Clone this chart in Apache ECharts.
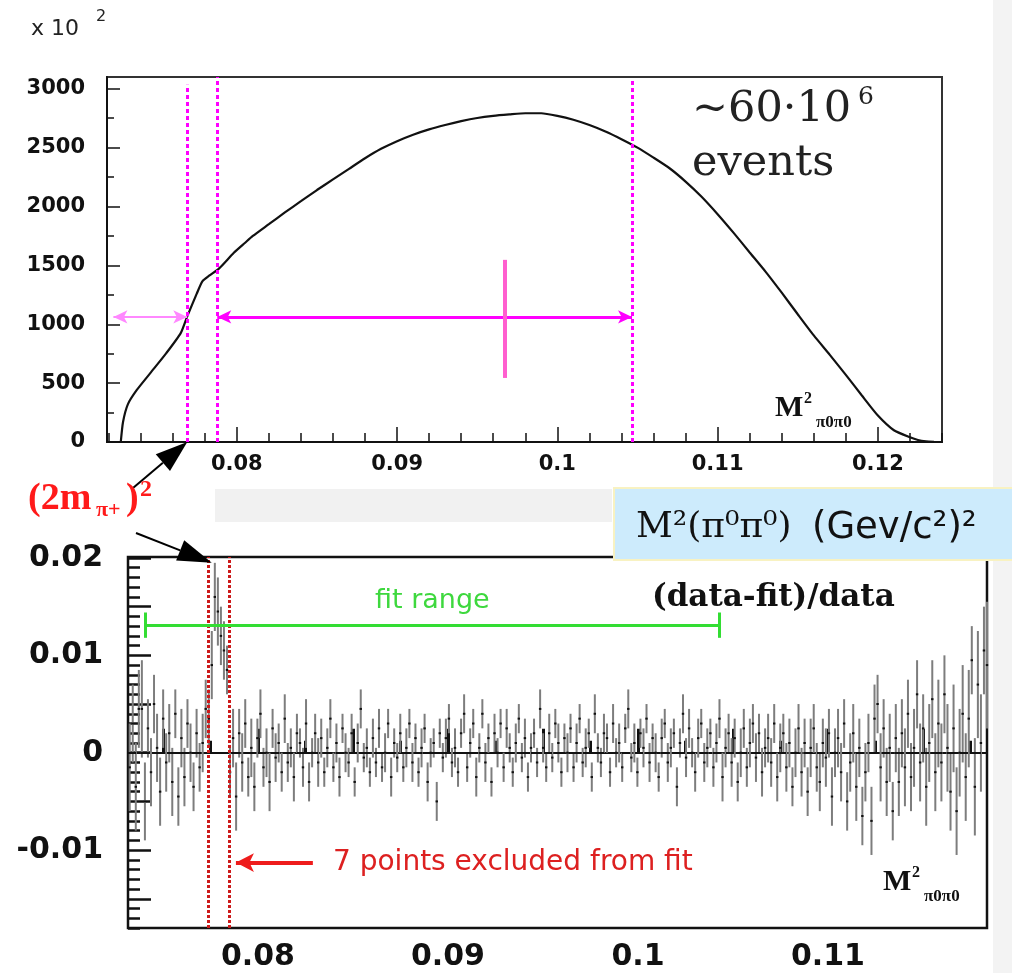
<!DOCTYPE html>
<html><head><meta charset="utf-8">
<script src="https://cdn.jsdelivr.net/npm/echarts@6/dist/echarts.min.js"></script>
<style>html,body{margin:0;padding:0;background:#fff}#c{width:1012px;height:973px}</style>
</head><body><div id="c"></div>
<script>
// ---------- top panel: M^2(pi0 pi0) distribution, units of 10^2 events ----------
const topX = [0.07276,0.07290,0.07320,0.07375,0.0746,0.0756,0.0765,0.0769,0.0775,0.07785,0.0783,0.0789,0.0798,0.0805,
  0.081,0.082,0.083,0.084,0.085,0.086,0.087,0.088,0.089,0.090,0.091,0.092,0.093,0.094,0.095,0.096,0.097,0.098,0.099,
  0.100,0.101,0.102,0.103,0.104,0.105,0.106,0.107,0.108,0.109,0.110,0.111,0.112,0.113,0.114,0.115,0.116,0.117,0.118,
  0.119,0.120,0.121,0.122,0.1225,0.123,0.1235];
const topY = [0,170,320,440,585,755,925,1065,1260,1365,1415,1475,1605,1690,
  1750,1850,1950,2045,2140,2230,2320,2410,2490,2555,2610,2655,2692,2725,2752,2770,2782,2792,2792,
  2770,2737,2692,2637,2572,2500,2415,2325,2212,2083,1935,1776,1610,1445,1268,1085,905,740,570,
  395,225,100,40,17,6,2];
const topXMin = 0.0719, topXMax = 0.1240, topYMin = 0, topYMax = 3100;
const topXLabels = [0.08, 0.09, 0.1, 0.11, 0.12];
const topYLabels = [0, 500, 1000, 1500, 2000, 2500, 3000];
const cutLinesTop = [0.07691, 0.07878, 0.10466];
const cutLinesTopFrom = [3035, 3100, 3077];
const arrowY = 1062;
const leftArrow = [0.0723, 0.07691];
const rightArrow = [0.07878, 0.10466];
const pinkBar = [0.09672, 544, 1547];

// ---------- bottom panel: (data-fit)/data residuals ----------
const resStart = 0.07325, resStep = 0.00016;   // bin centres
// residual values and errors, in units of 1e-3
const resVal = [
  -1.5,3.0,-3.5,4.5,4.5,-5.0,2.5,-2.0,5.0,0.5,-4.0,3.5,-1.0,2.0,-3.0,4.0,-4.5,1.5,-2.5,3.0,0.0,-3.5,2.0,-1.5,1.0,4.5,
  3.5,9.0,16.0,14.5,12.0,10.5,8.5,
  -2.0,1.5,-4.5,2.0,-1.0,3.0,-2.5,0.5,-3.5,1.5,
  4.0,-1.5,0.0,-3.0,2.5,-0.5,1.0,-2.0,3.5,-1.0,
  0.5,-2.5,2.0,1.0,-1.5,3.0,-3.0,0.0,2.0,-1.0,
  1.5,-2.0,0.5,3.5,-1.5,1.0,-2.5,2.5,0.0,-1.0,
  2.0,-3.0,1.0,4.5,-0.5,0.5,-2.0,1.5,-1.0,2.5,
  -1.5,0.0,3.0,-2.5,1.0,-0.5,2.0,-1.5,0.5,3.0,
  -1.0,1.5,-2.0,0.5,2.5,-3.0,0.0,1.0,-5.0,2.0,
  -0.5,1.5,3.5,-1.0,0.5,-2.0,2.0,4.0,-1.5,1.0,
  3.0,-2.5,0.5,4.0,-1.0,1.5,-3.0,2.0,0.0,3.0,
  -1.5,2.5,0.5,-2.0,1.0,3.5,-0.5,1.5,-2.5,0.5,
  2.0,-1.0,4.5,0.5,-1.5,2.0,-0.5,3.0,1.0,-2.0,
  1.5,0.0,2.5,-1.5,1.0,3.5,-1.0,0.5,2.0,-2.5,
  4.0,0.5,-1.0,2.0,1.5,-2.0,3.0,0.0,1.0,-1.5,
  2.5,4.5,-0.5,1.0,-2.0,2.0,0.5,3.5,-1.0,1.5,
  0.0,-2.5,1.5,3.0,-1.0,0.5,2.0,-3.5,1.0,4.0,
  -0.5,2.5,0.0,-2.0,1.5,3.0,-1.0,0.5,2.0,-1.5,
  1.0,3.5,-2.5,0.5,2.0,-1.0,1.5,-3.0,0.0,2.5,
  -1.5,1.0,3.0,-0.5,2.0,-2.0,0.5,1.5,-1.0,3.0,
  -2.5,0.5,2.0,-1.5,1.0,-3.5,0.0,2.5,-2.0,1.0,
  -4.0,0.5,2.5,-1.5,-3.0,1.0,-0.5,2.0,-4.5,0.0,
  1.5,-2.0,3.0,-5.0,-1.0,2.0,-3.5,0.5,-6.5,-2.0,
  1.0,-7.0,3.5,5.0,-1.5,2.5,-3.0,0.5,-6.0,1.5,
  -3.0,2.0,-1.5,4.0,-2.5,0.5,6.0,-1.0,2.5,-3.5,
  1.0,5.5,-2.0,3.0,-1.0,6.0,0.5,-4.0,2.5,-6.0,
  0.0,4.0,-2.5,3.5,9.5,-3.5,7.0,1.0,10.5,9.0];
const resErr = [
  4.5,4.0,4.5,4.0,5.0,4.0,3.0,3.5,3.0,3.5,3.5,3.0,3.0,3.0,3.5,2.5,3.0,3.0,3.0,2.5,3.0,2.5,2.5,2.5,3.0,3.0,
  3.0,3.5,3.5,3.5,3.0,3.0,2.5,
  2.5,3.0,3.5,2.5,3.0,2.5,2.0,3.0,2.5,2.0,
  2.5,2.0,2.5,3.0,2.0,2.5,2.0,2.0,2.5,2.0,
  2.0,2.5,2.0,1.5,2.0,2.5,2.0,1.5,2.0,2.5,
  2.0,1.5,2.0,2.0,1.5,2.0,2.0,1.5,2.0,1.5,
  2.0,1.5,2.0,2.0,1.5,2.0,1.5,2.0,1.5,2.0,
  1.5,2.0,1.5,2.0,1.5,1.5,2.0,1.5,2.0,1.5,
  2.0,1.5,1.5,2.0,1.5,2.0,1.5,1.5,2.0,1.5,
  1.5,2.0,1.5,1.5,2.0,1.5,1.5,2.0,1.5,1.5,
  1.5,2.0,1.5,1.5,2.0,1.5,1.5,2.0,1.5,1.5,
  1.5,2.0,1.5,1.5,2.0,1.5,1.5,2.0,1.5,1.5,
  1.5,1.5,2.0,1.5,1.5,2.0,1.5,1.5,2.0,1.5,
  1.5,2.0,1.5,1.5,2.0,1.5,1.5,2.0,1.5,1.5,
  2.0,1.5,1.5,2.0,1.5,1.5,2.0,1.5,2.0,1.5,
  1.5,2.0,1.5,2.0,1.5,1.5,2.0,1.5,2.0,1.5,
  2.0,1.5,2.0,1.5,2.0,2.0,1.5,2.0,1.5,2.0,
  2.0,2.0,1.5,2.0,2.0,1.5,2.0,2.0,1.5,2.0,
  2.0,2.0,2.5,2.0,2.0,2.5,2.0,2.0,2.5,2.0,
  2.0,2.5,2.0,2.5,2.0,2.5,2.0,2.5,2.5,2.0,
  2.5,2.5,2.0,2.5,2.5,2.0,2.5,2.5,2.5,2.5,
  2.5,3.0,2.5,2.5,3.0,2.5,3.0,2.5,3.0,2.5,
  3.0,3.0,2.5,3.0,3.0,3.0,3.5,3.0,3.0,3.0,
  3.0,3.5,3.5,3.0,3.5,3.0,3.5,3.5,3.0,3.5,
  3.5,3.5,4.0,3.5,3.5,4.0,3.5,4.0,3.5,4.0,
  4.0,4.0,4.0,4.5,4.0,4.0,4.5,4.0,4.5,4.5,
  4.5,5.0,4.5,5.0,3.5,5.0,5.5,5.0,4.5,6.5];
const botXMin = 0.07316, botXMax = 0.11837, botYMin = -0.018, botYMax = 0.0201;
const botXLabels = [0.08, 0.09, 0.1, 0.11];
const botYLabels = [-0.01, 0, 0.01, 0.02];
const cutLinesBot = [0.07737, 0.07847];
const fitRange = [0.07405, 0.10426], fitY = 0.0131;
const exclArrow = [0.08289, 0.07884], exclY = -0.01128;

// ---------- helpers ----------
function ticks(a, b, s) { const r = []; for (let k = Math.ceil(a / s - 1e-9); k * s <= b + 1e-12; k++) r.push(+(k * s).toFixed(6)); return r; }
const fmt = v => String(parseFloat((+v).toFixed(4)));
const SANS = '"DejaVu Sans", sans-serif', SERIF = '"DejaVu Serif", serif', TIMES = '"Liberation Serif", serif';

function xAx(grid, min, max, major, minor, labels, fs, majLen, minLen, w, margin) {
  return [
    { gridIndex: grid, type: 'value', position: 'bottom', min, max,
      axisLine: { show: true, lineStyle: { color: '#111', width: 2 } },
      axisTick: { show: true, inside: true, length: majLen, customValues: major, lineStyle: { color: '#111', width: w } },
      axisLabel: { customValues: labels, formatter: fmt, margin, fontFamily: SANS, fontWeight: 'bold', fontSize: fs, color: '#111' },
      splitLine: { show: false } },
    { gridIndex: grid, type: 'value', position: 'bottom', min, max,
      axisLine: { show: false },
      axisTick: { show: true, inside: true, length: minLen, customValues: minor, lineStyle: { color: '#111', width: w } },
      axisLabel: { show: false }, splitLine: { show: false } }
  ];
}
function yAx(grid, min, max, major, minor, labels, fs, majLen, minLen, w, margin) {
  return [
    { gridIndex: grid, type: 'value', position: 'left', min, max,
      axisLine: { show: true, lineStyle: { color: '#111', width: 2 } },
      axisTick: { show: true, inside: true, length: majLen, customValues: major, lineStyle: { color: '#111', width: w } },
      axisLabel: { customValues: labels, formatter: fmt, margin, fontFamily: SANS, fontWeight: 'bold', fontSize: fs, color: '#111' },
      splitLine: { show: false } },
    { gridIndex: grid, type: 'value', position: 'left', min, max,
      axisLine: { show: false },
      axisTick: { show: true, inside: true, length: minLen, customValues: minor, lineStyle: { color: '#111', width: w } },
      axisLabel: { show: false }, splitLine: { show: false } }
  ];
}

const chart = echarts.init(document.getElementById('c'), null, { renderer: 'canvas' });

const mag = '#ff00ff';
const topMarks = [];
cutLinesTop.forEach((x, i) => topMarks.push([
  { coord: [x, topYMin], symbol: 'none', lineStyle: { color: mag, width: 3, type: [4, 3] } },
  { coord: [x, cutLinesTopFrom[i]], symbol: 'none' }]));
topMarks.push([
  { coord: [leftArrow[0], arrowY], symbol: 'arrow', lineStyle: { color: '#ff88ff', width: 2, type: 'solid' } },
  { coord: [leftArrow[1], arrowY], symbol: 'arrow' }]);
topMarks.push([
  { coord: [rightArrow[0], arrowY], symbol: 'arrow', lineStyle: { color: mag, width: 3, type: 'solid' } },
  { coord: [rightArrow[1], arrowY], symbol: 'arrow' }]);
topMarks.push([
  { coord: [pinkBar[0], pinkBar[1]], symbol: 'none', lineStyle: { color: '#ff5fcf', width: 4, type: 'solid' } },
  { coord: [pinkBar[0], pinkBar[2]], symbol: 'none' }]);

const botMarks = [];
botMarks.push([
  { coord: [botXMin, 0], symbol: 'none', lineStyle: { color: '#111', width: 2, type: [8, 5] } },
  { coord: [botXMax, 0], symbol: 'none' }]);
cutLinesBot.forEach(x => botMarks.push([
  { coord: [x, botYMin], symbol: 'none', lineStyle: { color: '#cc1a1a', width: 3, type: [3, 2] } },
  { coord: [x, botYMax], symbol: 'none' }]));
const green = '#33dd33';
botMarks.push([
  { coord: [fitRange[0], fitY], symbol: 'none', lineStyle: { color: green, width: 3, type: 'solid' } },
  { coord: [fitRange[1], fitY], symbol: 'none' }]);
fitRange.forEach(x => botMarks.push([
  { coord: [x, fitY - 0.0013], symbol: 'none', lineStyle: { color: green, width: 3, type: 'solid' } },
  { coord: [x, fitY + 0.0013], symbol: 'none' }]));
botMarks.push([
  { coord: [exclArrow[0], exclY], symbol: 'none', lineStyle: { color: '#ee1c1c', width: 4, type: 'solid' } },
  { coord: [exclArrow[1], exclY], symbol: 'arrow' }]);

const resData = resVal.map((v, i) => [resStart + i * resStep, v / 1000, resErr[i] / 1000]);

const option = {
  animation: false,
  backgroundColor: '#ffffff',
  grid: [
    { left: 107, top: 77, width: 835, height: 365, show: true, borderColor: '#333', borderWidth: 2, backgroundColor: 'transparent' },
    { left: 128, top: 557, width: 859, height: 371, show: true, borderColor: '#111', borderWidth: 2.5, backgroundColor: 'transparent' }
  ],
  xAxis: [
    ...xAx(0, topXMin, topXMax, ticks(topXMin, topXMax, 0.01), ticks(topXMin, topXMax, 0.002), topXLabels, 21, 15, 9, 1.5, 12),
    ...xAx(1, botXMin, botXMax, ticks(botXMin, botXMax, 0.005), ticks(botXMin, botXMax, 0.0025), botXLabels, 30, 24, 12, 3, 14)
  ],
  yAxis: [
    ...yAx(0, topYMin, topYMax, ticks(topYMin, topYMax, 500), ticks(topYMin, topYMax, 250), topYLabels, 21, 13, 7, 1.5, 22),
    ...yAx(1, botYMin, botYMax, ticks(botYMin, botYMax, 0.005), ticks(botYMin, botYMax, 0.001), botYLabels, 30, 23, 12, 2.5, 25)
  ],
  series: [
    { type: 'line', xAxisIndex: 0, yAxisIndex: 0, data: topX.map((x, i) => [x, topY[i]]),
      showSymbol: false, symbol: 'none', smooth: 0.2, lineStyle: { color: '#111', width: 2.2 }, silent: true, z: 3,
      markLine: { silent: true, symbol: ['none', 'none'], symbolSize: [10, 14], label: { show: false }, data: topMarks } },
    { type: 'custom', xAxisIndex: 2, yAxisIndex: 2, data: resData, silent: true, z: 2,
      renderItem: function (params, api) {
        const x = api.value(0), v = api.value(1), e = api.value(2);
        const a = api.coord([x, v + e]), b = api.coord([x, v - e]), c = api.coord([x, v]);
        return { type: 'group', children: [
          { type: 'line', shape: { x1: a[0], y1: a[1], x2: b[0], y2: b[1] }, style: { stroke: '#7d7d7d', lineWidth: 2 } },
          { type: 'rect', shape: { x: c[0] - 1.2, y: c[1] - 1, width: 2.4, height: 2 }, style: { fill: '#111' } }
        ] };
      },
      markLine: { silent: true, symbol: ['none', 'none'], symbolSize: [14, 18], label: { show: false }, data: botMarks } }
  ]
};
chart.setOption(option);

// ---------- annotations ----------
const tip1 = chart.convertToPixel({ gridIndex: 0 }, [cutLinesTop[0], topYMin]);
const tip2 = chart.convertToPixel({ gridIndex: 1 }, [cutLinesBot[0] + 0.0002, botYMax - 0.0006]);
function arrow(tail, tip, L, W) {
  const dx = tip[0] - tail[0], dy = tip[1] - tail[1], d = Math.hypot(dx, dy);
  const ux = dx / d, uy = dy / d, bx = tip[0] - ux * L, by = tip[1] - uy * L, nx = -uy, ny = ux;
  return [
    { type: 'line', z: 50, shape: { x1: tail[0], y1: tail[1], x2: bx, y2: by }, style: { stroke: '#000', lineWidth: 2 } },
    { type: 'polygon', z: 50, shape: { points: [tip, [bx + nx * W / 2, by + ny * W / 2], [bx - nx * W / 2, by - ny * W / 2]] }, style: { fill: '#000' } }
  ];
}
function txt(x, y, text, font, fill) {
  return { type: 'text', z: 60, x, y, style: { text, font, fill, align: 'left', verticalAlign: 'middle' } };
}
const g = [
  { type: 'rect', z: 1, shape: { x: 993, y: 0, width: 19, height: 973 }, style: { fill: '#f3f3f3' } },
  { type: 'rect', z: 1, shape: { x: 215, y: 489, width: 397, height: 33 }, style: { fill: '#f1f1f1' } },
  { type: 'rect', z: 40, shape: { x: 614, y: 488, width: 400, height: 72 }, style: { fill: '#cdebfc', stroke: '#f8f2c2', lineWidth: 2 } },
  txt(636, 528, 'M²(π⁰π⁰)', '36px ' + SERIF, '#111'),
  txt(812, 528, '(Gev/c²)²', '37px ' + SANS, '#111'),
  txt(31, 29, 'x 10', '22px ' + SANS, '#222'),
  txt(96, 17, '2', '16px ' + SANS, '#222'),
  txt(692, 110, '~60·10', '43px ' + SERIF, '#222'),
  txt(858, 97, '6', '25px ' + SERIF, '#222'),
  txt(692, 164, 'events', '43px ' + SERIF, '#222'),
  txt(775, 408, 'M', 'bold 30px ' + TIMES, '#111'),
  txt(804, 399, '2', 'bold 16px ' + TIMES, '#111'),
  txt(816, 423, 'π0π0', 'bold 17px ' + TIMES, '#111'),
  txt(883, 882, 'M', 'bold 30px ' + TIMES, '#111'),
  txt(912, 873, '2', 'bold 16px ' + TIMES, '#111'),
  txt(924, 897, 'π0π0', 'bold 17px ' + TIMES, '#111'),
  txt(28, 499, '(2m', 'bold 38px ' + TIMES, '#ff1a1a'),
  txt(96, 510, 'π+', 'bold 22px ' + TIMES, '#ff1a1a'),
  txt(126, 499, ')', 'bold 38px ' + TIMES, '#ff1a1a'),
  txt(140, 490, '2', 'bold 24px ' + TIMES, '#ff1a1a'),
  txt(375, 601, 'fit range', '27px ' + SANS, '#3ed83e'),
  txt(652, 598, '(data-fit)/data', 'bold 31px ' + SERIF, '#111'),
  txt(333, 863, '7 points excluded from fit', '28px ' + SANS, '#dd2020'),
  ...arrow([133, 488], tip1, 32, 22),
  ...arrow([136, 533], tip2, 34, 22)
];
chart.setOption({ graphic: g });
</script></body></html>
